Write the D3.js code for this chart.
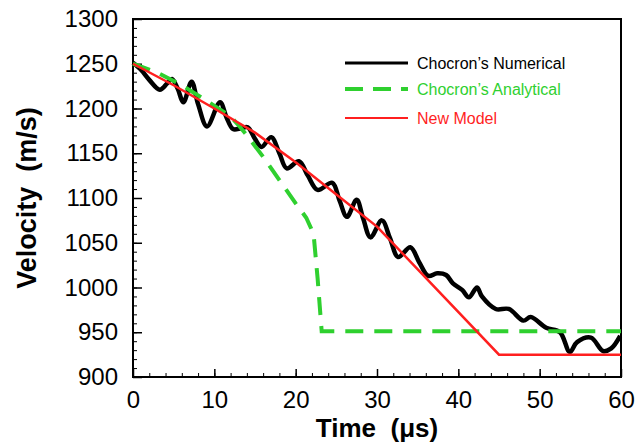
<!DOCTYPE html>
<html>
<head>
<meta charset="utf-8">
<script src="https://cdn.jsdelivr.net/npm/d3@7"></script>
<style>
  body { margin: 0; background: #fff; }
  svg { display: block; }
  text { font-family: "Liberation Sans", Arial, sans-serif; }
</style>
</head>
<body>
<div id="chart"></div>
<script>
// Chocron's numerical (time in microseconds, velocity in m/s)
const numericalTime = [0, 1.0, 2.0, 3.3, 4.2, 4.8, 5.5, 6.2, 7.2, 8.0, 9.1, 10.7, 11.5, 12.3, 13.3, 14.1, 15.0, 15.8,
  17.0, 18.0, 18.9, 20.4, 21.5, 22.7, 24.5, 25.4, 26.3, 27.5, 28.3, 29.2, 30.6, 31.6, 32.6, 34.1, 35.2, 36.3, 37.4,
  38.5, 39.3, 40.5, 41.3, 42.3, 42.9, 44.6, 46.2, 48.0, 48.9, 50.8, 52.5, 53.7, 54.6, 56.3, 57.8, 58.8, 59.9];
const numericalVel = [1251, 1243, 1232, 1221, 1228, 1233, 1222, 1207, 1230, 1205, 1180, 1207, 1190, 1177, 1178, 1179, 1166, 1157,
  1168, 1150, 1133, 1141, 1125, 1109, 1117, 1097, 1079, 1098, 1077, 1056, 1075, 1055, 1034, 1045, 1028, 1013, 1016,
  1014, 1005, 997, 989, 1000, 990, 976, 976, 963, 967, 955, 950, 928, 939, 944, 929, 932, 946];

// Chocron's analytical
const analyticalTime = [0, 3, 6, 9, 12, 13, 14, 16, 18, 20, 21.3, 22.2, 22.7, 23.2, 60];
const analyticalVel = [1250, 1240, 1226, 1209, 1191, 1181, 1170, 1146, 1120, 1094, 1078, 1060, 1010, 951, 951];

// New model
const modelTime = [0, 5, 10, 15, 20, 25, 30, 45, 60];
const modelVel = [1250, 1226, 1200, 1173, 1140, 1104, 1068, 925, 925];

const xTicks = [0, 10, 20, 30, 40, 50, 60];
const yTicks = [900, 950, 1000, 1050, 1100, 1150, 1200, 1250, 1300];

const legendLabels = ["Chocron\u2019s Numerical", "Chocron\u2019s Analytical", "New Model"];
const legendColors = ["#000000", "#2fd02f", "#ff1f1f"];

const width = 635;
const height = 448;
const margin = { top: 19, right: 14, bottom: 71, left: 133 };
const chartWidth = width - margin.left - margin.right;
const chartHeight = height - margin.top - margin.bottom;

const svg = d3.select('#chart')
  .append('svg')
  .attr('width', width)
  .attr('height', height);

const chart = svg.append('g')
  .attr('transform', `translate(${margin.left},${margin.top})`);

const xScale = d3.scaleLinear().domain([0, 60]).range([0, chartWidth]);
const yScale = d3.scaleLinear().domain([900, 1300]).range([chartHeight, 0]);

// minor ticks (inward)
const xMinor = d3.axisBottom(xScale).ticks(30).tickSize(-4).tickFormat('');
chart.append('g')
  .attr('transform', `translate(0,${chartHeight})`)
  .call(xMinor)
  .call(g => g.select('.domain').remove())
  .selectAll('line').attr('stroke', '#000').attr('stroke-width', 1);

const yMinor = d3.axisLeft(yScale).ticks(40).tickSize(-4).tickFormat('');
chart.append('g')
  .call(yMinor)
  .call(g => g.select('.domain').remove())
  .selectAll('line').attr('stroke', '#000').attr('stroke-width', 1);

// major ticks and labels
const xAxis = d3.axisBottom(xScale).tickValues(xTicks).tickSize(-8).tickPadding(14).tickFormat(d3.format('d'));
chart.append('g')
  .attr('transform', `translate(0,${chartHeight})`)
  .call(xAxis)
  .call(g => g.select('.domain').remove())
  .call(g => g.selectAll('line').attr('stroke', '#000').attr('stroke-width', 1.5))
  .call(g => g.selectAll('text')
    .attr('fill', '#000')
    .style('font-size', '24px'));

const yAxis = d3.axisLeft(yScale).tickValues(yTicks).tickSize(-9).tickPadding(15).tickFormat(d3.format('d'));
chart.append('g')
  .call(yAxis)
  .call(g => g.select('.domain').remove())
  .call(g => g.selectAll('line').attr('stroke', '#000').attr('stroke-width', 1.5))
  .call(g => g.selectAll('text')
    .attr('fill', '#000')
    .style('font-size', '24px'));

// frame
chart.append('rect')
  .attr('width', chartWidth)
  .attr('height', chartHeight)
  .attr('fill', 'none')
  .attr('stroke', '#000')
  .attr('stroke-width', 2);

const toPoints = (ts, vs) => ts.map((t, i) => [t, vs[i]]);

const line = d3.line()
  .x(d => xScale(d[0]))
  .y(d => yScale(d[1]));

chart.append('path')
  .datum(toPoints(numericalTime, numericalVel))
  .attr('fill', 'none')
  .attr('stroke', legendColors[0])
  .attr('stroke-width', 4.5)
  .attr('stroke-linejoin', 'round')
  .attr('d', line.curve(d3.curveCatmullRom.alpha(0.5)));

chart.append('path')
  .datum(toPoints(analyticalTime, analyticalVel))
  .attr('fill', 'none')
  .attr('stroke', legendColors[1])
  .attr('stroke-width', 4)
  .attr('stroke-dasharray', '18,11')
  .attr('d', line.curve(d3.curveLinear));

chart.append('path')
  .datum(toPoints(modelTime, modelVel))
  .attr('fill', 'none')
  .attr('stroke', legendColors[2])
  .attr('stroke-width', 2.5)
  .attr('d', line.curve(d3.curveLinear));

// legend
const legend = svg.append('g')
  .attr('transform', 'translate(345,63)');

const rows = legend.selectAll('.row')
  .data(legendLabels)
  .enter()
  .append('g')
  .classed('row', true)
  .attr('transform', (d, i) => `translate(0,${[0, 26, 55][i]})`);

rows.append('line')
  .attr('x1', 0)
  .attr('x2', 63)
  .attr('stroke', (d, i) => legendColors[i])
  .attr('stroke-width', (d, i) => [3, 4, 2][i])
  .attr('stroke-dasharray', (d, i) => i === 1 ? '18,10' : null);

rows.append('text')
  .attr('x', 72)
  .attr('y', 6)
  .attr('fill', (d, i) => legendColors[i])
  .style('font-size', '16px')
  .text(d => d);

// axis titles
svg.append('text')
  .attr('x', margin.left + chartWidth / 2)
  .attr('y', 437)
  .attr('text-anchor', 'middle')
  .style('font-size', '26px')
  .style('font-weight', 'bold')
  .style('white-space', 'pre')
  .text('Time  (\u03bcs)');

svg.append('text')
  .attr('transform', `translate(36,${margin.top + chartHeight / 2}) rotate(-90)`)
  .attr('text-anchor', 'middle')
  .style('font-size', '27px')
  .style('font-weight', 'bold')
  .style('white-space', 'pre')
  .text('Velocity  (m/s)');
</script>
</body>
</html>
